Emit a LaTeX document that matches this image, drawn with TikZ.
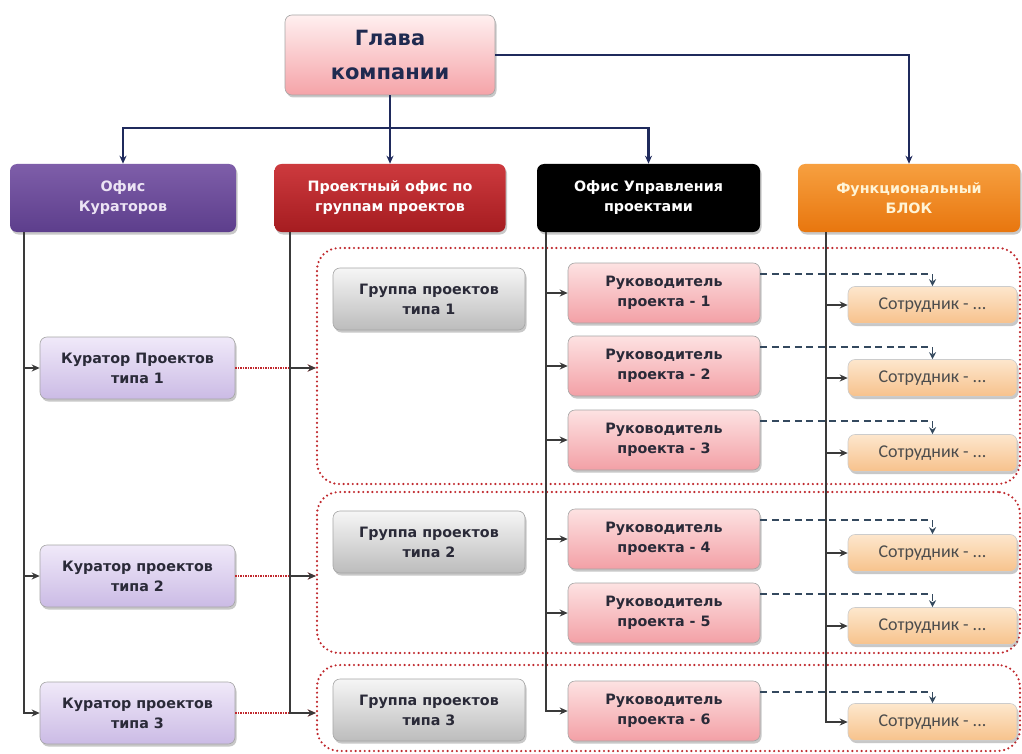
\documentclass[tikz,border=0pt]{standalone}
\usepackage{fontspec}
\setmainfont{DejaVu Sans}
\newfontfamily\stafffont{Carlito}
\usetikzlibrary{arrows.meta,shadows,calc}

\definecolor{busblue}{HTML}{1F2A5C}
\definecolor{trunkgray}{HTML}{3A3A3A}
\definecolor{dashgray}{HTML}{34495E}
\definecolor{framered}{HTML}{C0282D}
\definecolor{inktext}{HTML}{2A2A38}
\definecolor{headtext}{HTML}{1F2A50}

\begin{document}
\begin{tikzpicture}[x=1pt,y=-1pt,
  basebox/.style={rounded corners=7pt, draw=black!35, line width=0.6pt, align=center,
    inner sep=2pt,
    drop shadow={shadow xshift=1.5pt, shadow yshift=-2.5pt, opacity=0.3, fill=black!70},
    font=\bfseries\fontsize{14.3}{20}\selectfont, text=inktext},
  headbox/.style={basebox, top color=red!6, bottom color={rgb,255:red,245;green,163;blue,168},
    text=headtext, font=\bfseries\fontsize{21}{34}\selectfont,
    minimum width=210pt, minimum height=80pt},
  officebox/.style={basebox, minimum height=68pt, draw=none},
  curatorsbox/.style={officebox, top color={rgb,255:red,126;green,94;blue,169},
    bottom color={rgb,255:red,93;green,62;blue,140}, text={rgb,255:red,236;green,228;blue,244}},
  projofficebox/.style={officebox, top color={rgb,255:red,205;green,58;blue,62},
    bottom color={rgb,255:red,165;green,28;blue,32}, text=white},
  pmobox/.style={officebox, fill=black, text=white},
  funcbox/.style={officebox, top color={rgb,255:red,247;green,160;blue,64},
    bottom color={rgb,255:red,232;green,118;blue,14}, text={rgb,255:red,255;green,244;blue,214}},
  curatorbox/.style={basebox, top color={rgb,255:red,240;green,233;blue,249},
    bottom color={rgb,255:red,203;green,187;blue,229},
    minimum width=195pt, minimum height=62pt},
  groupbox/.style={basebox, top color={rgb,255:red,246;green,246;blue,246},
    bottom color={rgb,255:red,188;green,188;blue,188},
    minimum width=192pt, minimum height=62pt},
  leadbox/.style={basebox, top color={rgb,255:red,253;green,226;blue,226},
    bottom color={rgb,255:red,243;green,160;blue,166},
    minimum width=192pt, minimum height=60pt},
  staffbox/.style={basebox, top color={rgb,255:red,253;green,231;blue,205},
    bottom color={rgb,255:red,247;green,194;blue,140}, draw=black!20,
    minimum width=169pt, minimum height=37pt,
    font=\stafffont\fontsize{18}{20}\selectfont, text=black!70},
  grpframe/.style={draw=framered, line width=2.4pt, line cap=round,
    dash pattern=on 0pt off 4.6pt, rounded corners=22pt},
  bus/.style={draw=busblue, line width=2.2pt},
  trunk/.style={draw=trunkgray, line width=1.6pt},
  tip/.style={-{Stealth[length=8pt,width=7pt]}},
  dashlink/.style={draw=dashgray, line width=1.8pt, dash pattern=on 7pt off 4.5pt,
    -{Stealth[length=7pt,width=7pt]}},
  reddot/.style={draw=framered, line width=1.5pt, dash pattern=on 1.2pt off 1.3pt,
    -{Stealth[length=8pt,width=7pt]}}
]
\useasboundingbox (0,0) rectangle (1022,754);
\fill[white] (0,0) rectangle (1022,754);

% dotted frames around the project groups
\node[grpframe, minimum width=703pt, minimum height=236pt] (c1) at (668.5,366) {};
\node[grpframe, minimum width=703pt, minimum height=161pt] (c2) at (668.5,572.5) {};
\node[grpframe, minimum width=703pt, minimum height=86pt] (c3) at (668.5,708) {};

% top level
\node[headbox] (head) at (390,55) {Глава\\компании};

% offices
\node[curatorsbox, minimum width=226pt] (cur) at (123,198) {Офис\\Кураторов};
\node[projofficebox, minimum width=231pt] (pog) at (390,198) {Проектный офис по\\группам проектов};
\node[pmobox, minimum width=223pt] (pmo) at (648.5,198) {Офис Управления\\проектами};
\node[funcbox, minimum width=222pt] (fun) at (909,198) {Функциональный\\БЛОК};

% curators
\node[curatorbox] (k1) at (137.5,368) {Куратор Проектов\\типа 1};
\node[curatorbox] (k2) at (137.5,576) {Куратор проектов\\типа 2};
\node[curatorbox] (k3) at (137.5,713) {Куратор проектов\\типа 3};

% project groups
\node[groupbox] (g1) at (429,299) {Группа проектов\\типа 1};
\node[groupbox] (g2) at (429,542) {Группа проектов\\типа 2};
\node[groupbox] (g3) at (429,710) {Группа проектов\\типа 3};

% project leads
\node[leadbox] (r1) at (664,293) {Руководитель\\проекта - 1};
\node[leadbox] (r2) at (664,366) {Руководитель\\проекта - 2};
\node[leadbox] (r3) at (664,440) {Руководитель\\проекта - 3};
\node[leadbox] (r4) at (664,539) {Руководитель\\проекта - 4};
\node[leadbox] (r5) at (664,613) {Руководитель\\проекта - 5};
\node[leadbox] (r6) at (664,711) {Руководитель\\проекта - 6};

% staff
\node[staffbox] (s1) at (932.5,305) {Сотрудник - ...};
\node[staffbox] (s2) at (932.5,378) {Сотрудник - ...};
\node[staffbox] (s3) at (932.5,453) {Сотрудник - ...};
\node[staffbox] (s4) at (932.5,553) {Сотрудник - ...};
\node[staffbox] (s5) at (932.5,626) {Сотрудник - ...};
\node[staffbox] (s6) at (932.5,722) {Сотрудник - ...};

% head to offices
\coordinate (bus) at (head.south |- 0,128);
\draw[bus] (head.south) -- (bus);
\draw[bus,tip] (bus) -| (cur.north);
\draw[bus,tip] (bus) -- (pog.north);
\draw[bus,tip] (bus) -| (pmo.north);
\draw[bus,tip] (head.east) -| (fun.north);

% curators office trunk
\coordinate (curT) at ($(cur.south west)+(14,0)$);
\draw[trunk,tip] (curT) |- (k3.west);
\draw[trunk,tip] (curT |- k1.west) -- (k1.west);
\draw[trunk,tip] (curT |- k2.west) -- (k2.west);

% curators to their project groups
\draw[reddot] (k1.east) -- (c1.west |- k1.east);
\draw[reddot] (k2.east) -- (c2.west |- k2.east);
\draw[reddot] (k3.east) -- (c3.west |- k3.east);

% project office trunk
\coordinate (pogT) at ($(pog.south west)+(16,0)$);
\draw[trunk,tip] (pogT) |- (c3.west |- k3.east);
\draw[trunk,tip] (pogT |- k1.east) -- (c1.west |- k1.east);
\draw[trunk,tip] (pogT |- k2.east) -- (c2.west |- k2.east);

% project management office trunk
\coordinate (pmoT) at ($(pmo.south west)+(9,0)$);
\draw[trunk,tip] (pmoT) |- (r6.west);
\foreach \r in {r1,r2,r3,r4,r5}
  \draw[trunk,tip] (pmoT |- \r.west) -- (\r.west);

% functional block trunk
\coordinate (funT) at ($(fun.south west)+(28,0)$);
\draw[trunk,tip] (funT) |- (s6.west);
\foreach \s in {s1,s2,s3,s4,s5}
  \draw[trunk,tip] (funT |- \s.west) -- (\s.west);

% leads assign staff
\foreach \r/\s in {r1/s1,r2/s2,r3/s3,r4/s4,r5/s5,r6/s6}
  \draw[dashlink] ([yshift=-11pt]\r.north east) -| (\s.north);
\end{tikzpicture}
\end{document}
